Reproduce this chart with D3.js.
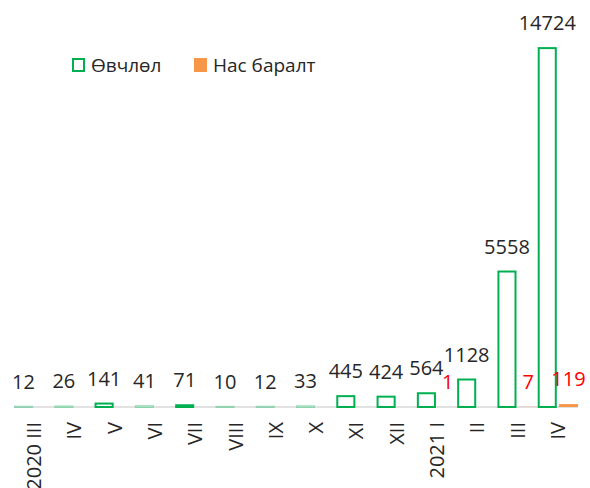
<!DOCTYPE html>
<html>
  <head>
    <meta http-equiv="Content-Type" content="text/html;charset=utf-8" />
    <title>Өвчлөл ба нас баралт</title>
    <style>
      body {
        margin: 0;
        font-family: "Open Sans", "Noto Sans", sans-serif;
        background: #fff;
      }
      .axis path {
        stroke: #d9d9d9;
        stroke-width: 1.5px;
      }
      .axis text {
        font-size: 20px;
        fill: #262626;
      }
      text.val {
        font-size: 20px;
        fill: #262626;
        text-anchor: middle;
      }
      text.dval {
        font-size: 20px;
        fill: #ff0000;
        text-anchor: middle;
      }
      .legend text {
        font-size: 19px;
        fill: #262626;
      }
    </style>
    <script src="https://d3js.org/d3.v7.min.js"></script>
  </head>
  <body>
    <div id="chart"></div>
    <script type="text/javascript">
      const width = 590,
        height = 488;

      // months (Roman numerals), year shown on first month
      const months = ["2020 III", "IV", "V", "VI", "VII", "VIII", "IX", "X", "XI", "XII", "2021 I", "II", "III", "IV"];
      const cases = [12, 26, 141, 41, 71, 10, 12, 33, 445, 424, 564, 1128, 5558, 14724];
      const deaths = [null, null, null, null, null, null, null, null, null, null, 1, null, 7, 119];
      const seriesNames = ["Өвчлөл", "Нас баралт"];

      const green = "#00b050",
        orange = "#f79646";

      const svg = d3
        .select("#chart")
        .append("svg")
        .attr("width", width)
        .attr("height", height);

      const x = d3
        .scaleBand()
        .domain(d3.range(months.length))
        .range([14, 578])
        .padding(0);

      const x1 = d3
        .scaleBand()
        .domain(["cases", "deaths"])
        .range([0, x.bandwidth()])
        .paddingInner(0.1);

      const y = d3.scaleLinear().domain([0, 16000]).range([407, 17]);

      const rows = months.map(function (m, i) {
        return { i: i, month: m, cases: cases[i], deaths: deaths[i] };
      });

      // x axis line first, bars sit on top of it
      const axis = svg
        .append("g")
        .attr("class", "axis")
        .attr("transform", "translate(0," + y(0) + ")")
        .call(
          d3
            .axisBottom(x)
            .tickSize(0)
            .tickFormat((i) => months[i])
        );
      axis.select(".domain").attr("d", "M14,0H578");
      axis
        .selectAll("text")
        .attr("transform", "rotate(-90)")
        .attr("x", -15)
        .attr("y", 0)
        .attr("dy", "0.35em")
        .style("text-anchor", "end")
        .style("font-family", "Open Sans, sans-serif");

      // green outlined bars
      svg
        .selectAll("rect.cases")
        .data(rows)
        .enter()
        .append("rect")
        .attr("class", "cases")
        .attr("x", (d) => x(d.i) + x1("cases") + 1)
        .attr("y", (d) => y(d.cases))
        .attr("width", x1.bandwidth() - 2)
        .attr("height", (d) => y(0) - y(d.cases))
        .style("fill", "#fff")
        .style("stroke", green)
        .style("stroke-opacity", (d) => (y(0) - y(d.cases) < 1 ? 0.35 : 1))
        .style("stroke-width", 2);

      // orange death bars
      svg
        .selectAll("rect.deaths")
        .data(rows.filter((d) => d.deaths !== null))
        .enter()
        .append("rect")
        .attr("class", "deaths")
        .attr("x", (d) => x(d.i) + x1("deaths"))
        .attr("y", (d) => y(d.deaths))
        .attr("width", x1.bandwidth())
        .attr("height", (d) => y(0) - y(d.deaths))
        .style("fill", orange);

      // value labels
      svg
        .selectAll("text.val")
        .data(rows)
        .enter()
        .append("text")
        .attr("class", "val")
        .attr("x", (d) => x(d.i) + x1("cases") + x1.bandwidth() / 2)
        .attr("y", (d) => y(d.cases) - 18)
        .text((d) => d.cases);

      svg
        .selectAll("text.dval")
        .data(rows.filter((d) => d.deaths !== null))
        .enter()
        .append("text")
        .attr("class", "dval")
        .attr("x", (d) => x(d.i) + x1("deaths") + x1.bandwidth() / 2)
        .attr("y", (d) => y(d.deaths) - 18)
        .text((d) => d.deaths);

      // legend
      const legend = svg.append("g").attr("class", "legend");
      legend
        .append("rect")
        .attr("x", 73)
        .attr("y", 59)
        .attr("width", 11)
        .attr("height", 12)
        .style("fill", "#fff")
        .style("stroke", green)
        .style("stroke-width", 2);
      legend.append("text").attr("x", 91).attr("y", 72).text(seriesNames[0]);
      legend
        .append("rect")
        .attr("x", 194)
        .attr("y", 58)
        .attr("width", 13)
        .attr("height", 14)
        .style("fill", orange);
      legend.append("text").attr("x", 213).attr("y", 72).text(seriesNames[1]);
    </script>
  </body>
</html>
